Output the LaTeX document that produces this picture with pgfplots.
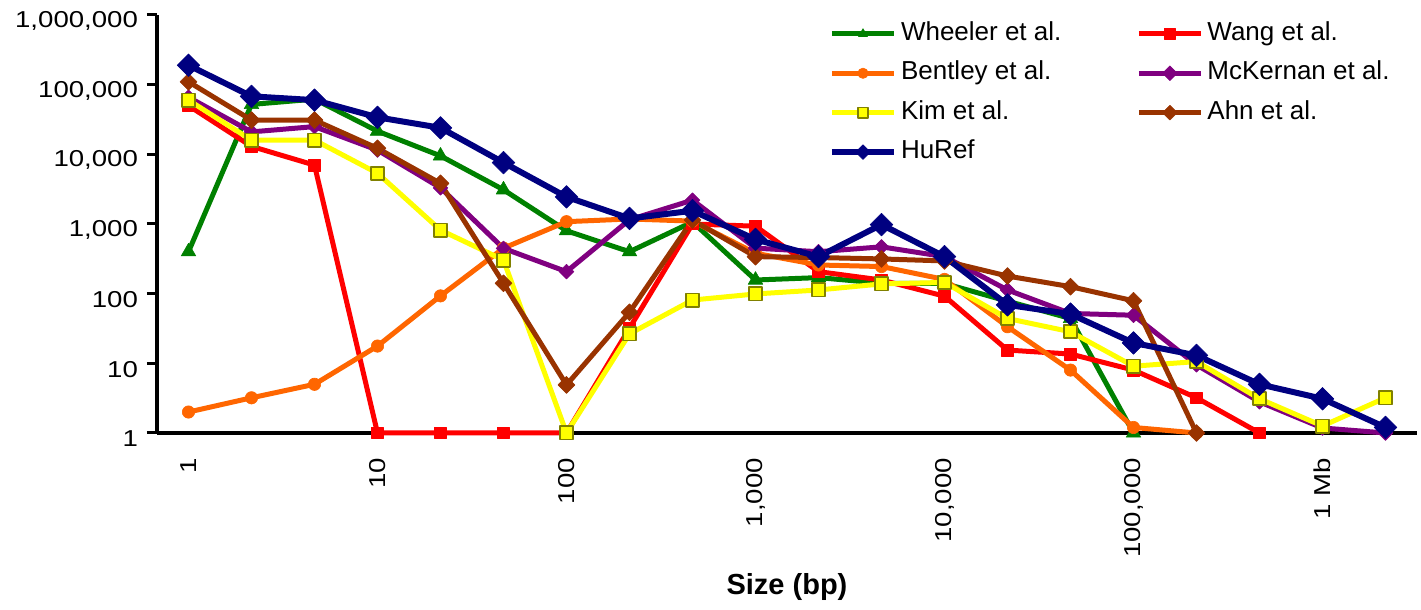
\documentclass[border=0pt]{standalone}
\usepackage{fontspec}
\setmainfont{Liberation Sans}
\newfontfamily\tickfont{Liberation Sans}[FakeStretch=1.2]
\usepackage{pgfplots}
\pgfplotsset{compat=1.18}
\definecolor{cgreen}{HTML}{008000}
\definecolor{cred}{HTML}{FF0000}
\definecolor{corange}{HTML}{FF6600}
\definecolor{cpurple}{HTML}{800080}
\definecolor{cyellow}{HTML}{FFFF00}
\definecolor{colive}{HTML}{808000}
\definecolor{cbrown}{HTML}{993300}
\definecolor{cnavy}{HTML}{000080}
\begin{document}
\fontsize{13pt}{15pt}\selectfont
\begin{tikzpicture}
\begin{axis}[
  scale only axis,
  width=630pt, height=209pt,
  ymode=log,
  xmin=-0.5, xmax=19.5,
  ymin=1, ymax=1000000,
  axis lines*=left,
  axis line style={-, line width=1.6pt},
  tick align=outside,
  every tick/.style={black, line width=1.5pt},
  major tick length=5pt,
  minor tick length=6pt,
  xtick={0,3,6,9,12,15,18},
  xticklabels={1,10,100,{1,000},{10,000},{100,000},1 Mb},
  xtick style={draw=none},
  minor xtick={-0.5,0.5,...,19.5},
  yminorticks=false,
  ytick={1,10,100,1000,10000,100000,1000000},
  yticklabels={1,10,100,{1,000},{10,000},{100,000},{1,000,000}},
  /pgf/number format/assume math mode=true,
  xticklabel shift=3pt,
  xticklabel style={rotate=90, anchor=east, font=\tickfont\fontsize{11.5pt}{13pt}\selectfont},
  yticklabel style={yshift=-3pt, font=\tickfont\fontsize{11.5pt}{13pt}\selectfont},
  xlabel={Size (bp)},
  xlabel style={at={(axis description cs:0.5,0)}, anchor=center, yshift=-77pt, font=\bfseries\fontsize{14.5pt}{16pt}\selectfont},
  clip=false,
  every axis plot/.append style={line join=round},
  legend columns=2,
  legend style={draw=none, fill=none, at={(axis description cs:0.533,0.99)}, anchor=north west,
    inner sep=0pt, font=\fontsize{13pt}{15pt}\selectfont,
    nodes={text height=9.5pt, text depth=2.8pt, inner sep=1pt},
    row sep=5.4pt,
    /tikz/every even column/.append style={column sep=36.5pt},
    /tikz/every odd column/.append style={column sep=1pt}},
  legend cell align=left,
  legend image code/.code={\draw[mark repeat=2,mark phase=2] plot coordinates {(0cm,0cm) (0.545cm,0cm) (1.09cm,0cm)};},
  legend image post style={mark size=2.6pt},
]
% Wheeler
\addplot[color=cgreen, line width=2.5pt, mark=triangle*, mark size=4.2pt, mark options={solid, line width=0.3pt}] coordinates {
(0,400) (1,52000) (2,62000) (3,21500) (4,9500) (5,3100) (6,800) (7,400) (8,1070) (9,157) (10,170) (11,141) (12,140) (13,78) (14,44) (15,1)};
\addlegendentry{Wheeler et al.}
% Wang
\addplot[color=cred, line width=2.5pt, mark=square*, mark size=2.9pt, mark options={solid, line width=0.3pt}] coordinates {
(0,50000) (1,13000) (2,7000) (3,1) (4,1) (5,1) (6,1) (7,32) (8,1000) (9,930) (10,207) (11,157) (12,92) (13,15.5) (14,13.6) (15,8.0) (16,3.2) (17,1)};
\addlegendentry{Wang et al.}
% Bentley
\addplot[color=corange, line width=2.5pt, mark=*, mark size=3.1pt, mark options={solid, line width=0.3pt}] coordinates {
(0,2) (1,3.2) (2,5) (3,17.7) (4,93) (5,450) (6,1080) (7,1180) (8,1100) (9,380) (10,258) (11,245) (12,160) (13,33.5) (14,8.0) (15,1.2) (16,1)};
\addlegendentry{Bentley et al.}
% McKernan
\addplot[color=cpurple, line width=2.5pt, mark=square*, mark size=2.6pt, mark options={solid, rotate=45, line width=0.3pt}] coordinates {
(0,66000) (1,21000) (2,25000) (3,11500) (4,3300) (5,447) (6,207) (7,1150) (8,2200) (9,450) (10,400) (11,470) (12,340) (13,113) (14,52) (15,49) (16,9.5) (17,2.8) (18,1.18) (19,1)};
\addlegendentry{McKernan et al.}
% Kim
\addplot[color=cyellow, line width=2.5pt, mark=square*, mark size=3.3pt, mark options={solid, fill=cyellow, draw=colive, line width=0.9pt}] coordinates {
(0,60000) (1,16000) (2,16000) (3,5350) (4,817) (5,304) (6,1) (7,26.5) (8,81) (9,99) (10,113) (11,138) (12,145) (13,44) (14,28.4) (15,9.1) (16,10.6) (17,3.1) (18,1.26) (19,3.2)};
\addlegendentry{Kim et al.}
% Ahn
\addplot[color=cbrown, line width=2.5pt, mark=square*, mark size=3pt, mark options={solid, rotate=45, line width=0.3pt}] coordinates {
(0,110000) (1,31000) (2,31000) (3,12200) (4,3830) (5,141) (6,4.9) (7,54) (8,1140) (9,340) (10,330) (11,315) (12,295) (13,179) (14,126) (15,79) (16,1)};
\addlegendentry{Ahn et al.}
% HuRef
\addplot[color=cnavy, line width=3pt, mark=square*, mark size=4pt, mark options={solid, rotate=45, line width=0.3pt}] coordinates {
(0,190000) (1,68000) (2,60000) (3,34000) (4,24000) (5,7600) (6,2450) (7,1200) (8,1550) (9,600) (10,340) (11,980) (12,340) (13,69) (14,51) (15,19.6) (16,13) (17,5) (18,3.1) (19,1.2)};
\addlegendentry{HuRef}
\end{axis}
\path ([shift={(-78.5pt,216.5pt)}]current axis.south west) ([shift={(632pt,-85.5pt)}]current axis.south west);
\end{tikzpicture}
\end{document}
